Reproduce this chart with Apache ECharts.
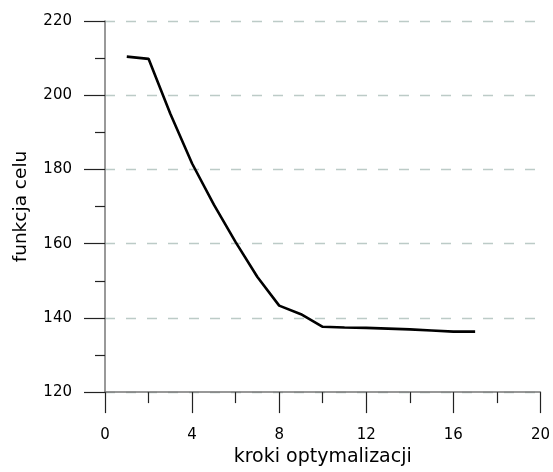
<!DOCTYPE html>
<html><head><meta charset="utf-8">
<script src="https://cdn.jsdelivr.net/npm/echarts@6/dist/echarts.min.js"></script>
<style>html,body{margin:0;padding:0;background:#fff}#c{width:553px;height:472px}</style>
</head><body><div id="c"></div>
<script>
var steps = [1,2,3,4,5,6,7,8,9,10,11,12,13,14,15,16,17];
var objective = [210.4,209.8,195.0,181.6,170.5,160.4,151.0,143.3,141.0,137.6,137.4,137.3,137.1,136.9,136.6,136.3,136.3];
var xName = 'kroki optymalizacji';
var yName = 'funkcja celu';
var font = '"DejaVu Sans", sans-serif';
var chart = echarts.init(document.getElementById('c'));
chart.setOption({
  animation:false,
  grid:{left:105,top:21,right:12,bottom:76},
  xAxis:{type:'value',min:0,max:20,interval:4,
    name:xName,nameLocation:'middle',nameGap:50,
    nameTextStyle:{fontFamily:font,fontSize:19,color:'#000'},
    axisLine:{lineStyle:{color:'#777',width:1.5}},
    axisTick:{length:21,lineStyle:{color:'#222',width:1.2}},
    minorTick:{show:true,splitNumber:2,length:11,lineStyle:{color:'#222',width:1.2}},
    axisLabel:{margin:36,fontFamily:font,fontSize:15,color:'#000'},
    splitLine:{show:false}},
  yAxis:{type:'value',min:120,max:220,interval:20,
    name:yName,nameLocation:'middle',nameGap:74,
    nameTextStyle:{fontFamily:font,fontSize:18.5,color:'#000'},
    axisLine:{show:true,lineStyle:{color:'#777',width:1.5}},
    axisTick:{show:true,length:21,lineStyle:{color:'#222',width:1.2}},
    minorTick:{show:true,splitNumber:2,length:10,lineStyle:{color:'#222',width:1.2}},
    axisLabel:{margin:33,fontFamily:font,fontSize:15,color:'#000'},
    splitLine:{show:true,lineStyle:{color:'#bccbc7',type:[10,11],width:1.3}}},
  series:[{type:'line',data:steps.map(function(s,i){return [s,objective[i]];}),
    showSymbol:false,lineStyle:{color:'#000',width:2.6}}]
});
</script></body></html>
